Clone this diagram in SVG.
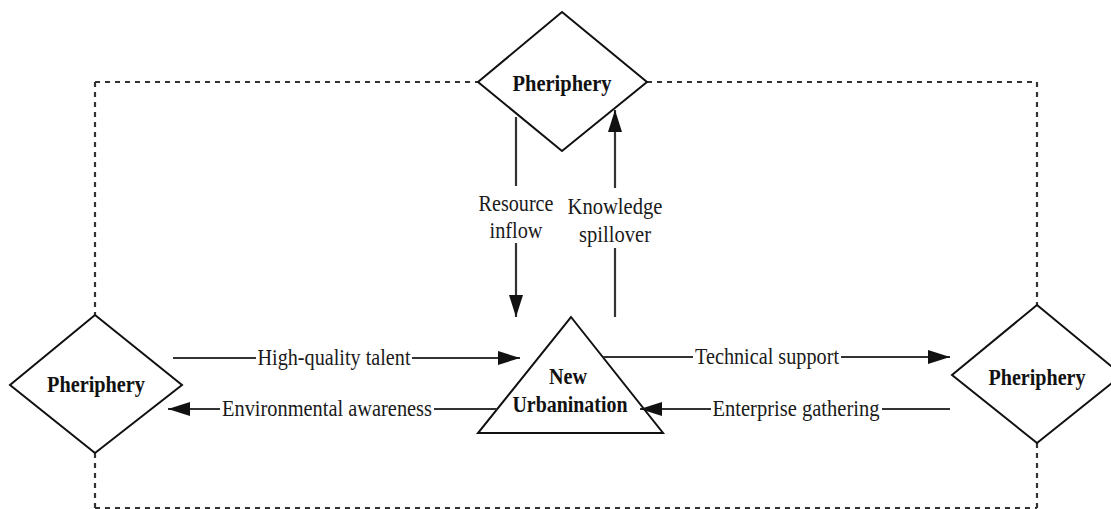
<svg xmlns="http://www.w3.org/2000/svg" width="1111" height="509" viewBox="0 0 1111 509">
<style>
.node{fill:#fff;stroke:#111;stroke-width:2}
.nt{font-family:"Liberation Serif","Times New Roman",serif;font-weight:bold;font-size:23px;fill:#111;text-anchor:middle}
.lbl{font-family:"Liberation Serif","Times New Roman",serif;font-size:23px;fill:#1a1a1a;text-anchor:middle}
.ln{stroke:#333;stroke-width:2.2;fill:none}
.dash{stroke:#333;stroke-width:2.2;fill:none;stroke-dasharray:5 5}
</style>
<defs>
<marker id="ah" markerUnits="userSpaceOnUse" markerWidth="24" markerHeight="16" refX="22" refY="7" orient="auto">
<path d="M0,0 L22,7 L0,14 Z" fill="#111"/>
</marker>
</defs>
<rect width="1111" height="509" fill="#fff"/>
<g id="border">
<path class="dash" d="M95,82 H478 M647,82 H1037 M95,82 V315 M95,453 V508 M1037,82 V305 M1037,443 V508 M95,508 H1037"/>
</g>
<g id="node-top">
<polygon class="node" points="562,12 647,82 562,151 478,82"/>
<text class="nt" x="562" y="91" textLength="99" lengthAdjust="spacingAndGlyphs">Pheriphery</text>
</g>
<g id="node-left">
<polygon class="node" points="95,315 182,385 95,453 10,385"/>
<text class="nt" x="96" y="392" textLength="98" lengthAdjust="spacingAndGlyphs">Pheriphery</text>
</g>
<g id="node-right">
<polygon class="node" points="1037,305 1122,375 1037,443 952,375"/>
<text class="nt" x="1037" y="385" textLength="97" lengthAdjust="spacingAndGlyphs">Pheriphery</text>
</g>
<g id="node-center">
<polygon class="node" points="571,317 663,433 478,433"/>
<text class="nt" x="568" y="384" textLength="38" lengthAdjust="spacingAndGlyphs">New</text>
<text class="nt" x="570" y="412" textLength="115" lengthAdjust="spacingAndGlyphs">Urbanination</text>
</g>
<g id="connectors">
<line class="ln" x1="173" y1="358" x2="256" y2="358"/>
<line class="ln" x1="412" y1="358" x2="520" y2="358" marker-end="url(#ah)"/>
<line class="ln" x1="497" y1="409" x2="434" y2="409"/>
<line class="ln" x1="220" y1="409" x2="168" y2="409" marker-end="url(#ah)"/>
<line class="ln" x1="603" y1="357" x2="693" y2="357"/>
<line class="ln" x1="841" y1="357" x2="950" y2="357" marker-end="url(#ah)"/>
<line class="ln" x1="950" y1="409" x2="882" y2="409"/>
<line class="ln" x1="711" y1="409" x2="640" y2="409" marker-end="url(#ah)"/>
<line class="ln" x1="516" y1="117" x2="516" y2="186"/>
<line class="ln" x1="516" y1="243" x2="516" y2="317" marker-end="url(#ah)"/>
<line class="ln" x1="615" y1="317" x2="615" y2="248"/>
<line class="ln" x1="615" y1="188" x2="615" y2="110" marker-end="url(#ah)"/>
</g>
<g id="labels">
<text class="lbl" x="334" y="365" textLength="153" lengthAdjust="spacingAndGlyphs">High-quality talent</text>
<text class="lbl" x="327" y="416" textLength="210" lengthAdjust="spacingAndGlyphs">Environmental awareness</text>
<text class="lbl" x="767" y="364" textLength="144" lengthAdjust="spacingAndGlyphs">Technical support</text>
<text class="lbl" x="796" y="416" textLength="167" lengthAdjust="spacingAndGlyphs">Enterprise gathering</text>
<text class="lbl" x="516" y="211" textLength="75" lengthAdjust="spacingAndGlyphs">Resource</text>
<text class="lbl" x="516" y="238" textLength="53" lengthAdjust="spacingAndGlyphs">inflow</text>
<text class="lbl" x="615" y="214" textLength="95" lengthAdjust="spacingAndGlyphs">Knowledge</text>
<text class="lbl" x="615" y="242" textLength="72" lengthAdjust="spacingAndGlyphs">spillover</text>
</g>
</svg>
